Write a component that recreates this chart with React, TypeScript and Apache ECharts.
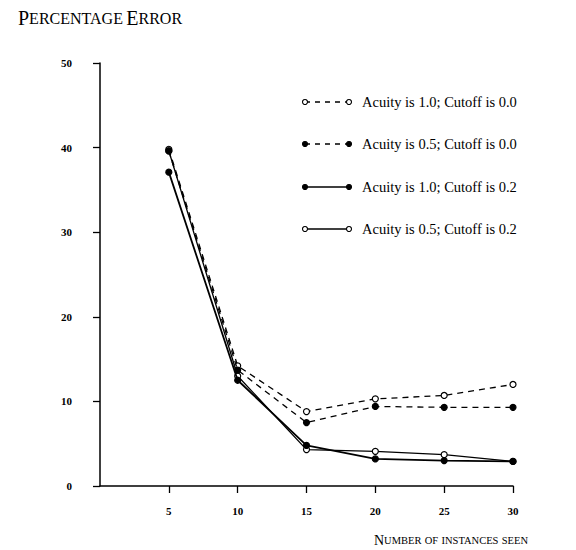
import React, { useEffect, useRef } from "react";
import * as echarts from "echarts";

const xValues = [5, 10, 15, 20, 25, 30];
const xTickLabels = [5, 10, 15, 20, 25, 30];
const yTicks = [0, 10, 20, 30, 40, 50];

const seriesNames = [
  "Acuity is 1.0; Cutoff is 0.0",
  "Acuity is 0.5; Cutoff is 0.0",
  "Acuity is 1.0; Cutoff is 0.2",
  "Acuity is 0.5; Cutoff is 0.2",
];
const acuity10Cutoff00 = [39.8, 14.2, 8.8, 10.3, 10.7, 12.0];
const acuity05Cutoff00 = [39.6, 13.7, 7.5, 9.4, 9.3, 9.3];
const acuity10Cutoff02 = [37.1, 12.5, 4.8, 3.2, 3.0, 2.9];
const acuity05Cutoff02 = [39.6, 13.0, 4.3, 4.1, 3.7, 2.9];
const seriesData = [acuity10Cutoff00, acuity05Cutoff00, acuity10Cutoff02, acuity05Cutoff02];
const dashed = [true, true, false, false];
const filled = [false, true, true, false];

const SERIF = "'Liberation Serif', 'DejaVu Serif', serif";

export default function App() {
  const ref = useRef<HTMLDivElement>(null);
  useEffect(() => {
    document.body.style.margin = "0";
    if (!ref.current) return;
    const chart = echarts.init(ref.current, null, { renderer: "svg" });

    const series = seriesData.map((vals, i) => ({
      name: seriesNames[i],
      type: "line",
      data: vals.map((v, j) => [xValues[j], v]),
      symbol: "circle",
      symbolSize: 6,
      showSymbol: true,
      lineStyle: {
        color: "#000",
        width: i === 2 ? 1.8 : 1.3,
        type: dashed[i] ? [6, 5] : "solid",
      },
      itemStyle: {
        color: filled[i] ? "#000" : "#fff",
        borderColor: "#000",
        borderWidth: 1.2,
      },
      z: filled[i] ? 3 : 2,
    }));

    const legendRowY = [102, 144, 187, 229];
    const legendGraphics: any[] = [];
    seriesNames.forEach((name, i) => {
      const y = legendRowY[i];
      legendGraphics.push({
        type: "line",
        shape: { x1: 305, y1: y, x2: 349, y2: y },
        style: { stroke: "#000", lineWidth: 1.3, lineDash: dashed[i] ? [5, 5] : null },
      });
      [305, 349].forEach((cx) =>
        legendGraphics.push({
          type: "circle",
          shape: { cx, cy: y, r: 2.5 },
          style: { fill: filled[i] ? "#000" : "#fff", stroke: "#000", lineWidth: 1.1 },
          z: 10,
        })
      );
      legendGraphics.push({
        type: "text",
        x: 362,
        y,
        style: {
          text: name,
          fill: "#000",
          font: `14.5px ${SERIF}`,
          verticalAlign: "middle",
          align: "left",
        },
      });
    });

    const smallCaps = (words: string[], capFirst: boolean[]) =>
      words.map((w, i) => (capFirst[i] ? `{b|${w[0]}}{s|${w.slice(1)}}` : `{s|${w}}`)).join(" ");

    chart.setOption({
      animation: false,
      backgroundColor: "#fff",
      grid: { left: 100, right: 63, top: 63, bottom: 64, containLabel: false },
      xAxis: {
        type: "value",
        min: 0,
        max: 30,
        interval: 5,
        axisLine: { show: true, lineStyle: { color: "#000", width: 1.5 } },
        axisTick: {
          show: true,
          inside: false,
          length: 7,
          customValues: xTickLabels,
          lineStyle: { color: "#000", width: 1.3 },
        },
        axisLabel: {
          customValues: xTickLabels,
          margin: 19,
          color: "#000",
          fontFamily: SERIF,
          fontWeight: "bold",
          fontSize: 11,
        },
        splitLine: { show: false },
      },
      yAxis: {
        type: "value",
        min: 0,
        max: 50,
        interval: 10,
        axisLine: { show: true, lineStyle: { color: "#000", width: 1.5 } },
        axisTick: {
          show: true,
          inside: false,
          length: 7,
          customValues: yTicks,
          lineStyle: { color: "#000", width: 1.3 },
        },
        axisLabel: {
          customValues: yTicks,
          margin: 28,
          color: "#000",
          fontFamily: SERIF,
          fontWeight: "bold",
          fontSize: 11,
        },
        splitLine: { show: false },
      },
      series,
      graphic: [
        {
          type: "text",
          left: 18,
          top: 8,
          style: {
            text: smallCaps(["PERCENTAGE", "ERROR"], [true, true]),
            fill: "#000",
            rich: {
              b: { fontFamily: SERIF, fontSize: 20, fill: "#000" },
              s: { fontFamily: SERIF, fontSize: 16, fill: "#000" },
            },
          },
        },
        {
          type: "text",
          right: 48,
          top: 533,
          style: {
            text: smallCaps(["NUMBER", "OF", "INSTANCES", "SEEN"], [true, false, false, false]),
            fill: "#000",
            rich: {
              b: { fontFamily: SERIF, fontSize: 14, fill: "#000" },
              s: { fontFamily: SERIF, fontSize: 10.5, fill: "#000" },
            },
          },
        },
        ...legendGraphics,
      ],
    });
    return () => chart.dispose();
  }, []);
  return <div ref={ref} style={{ width: 576, height: 550 }} />;
}
